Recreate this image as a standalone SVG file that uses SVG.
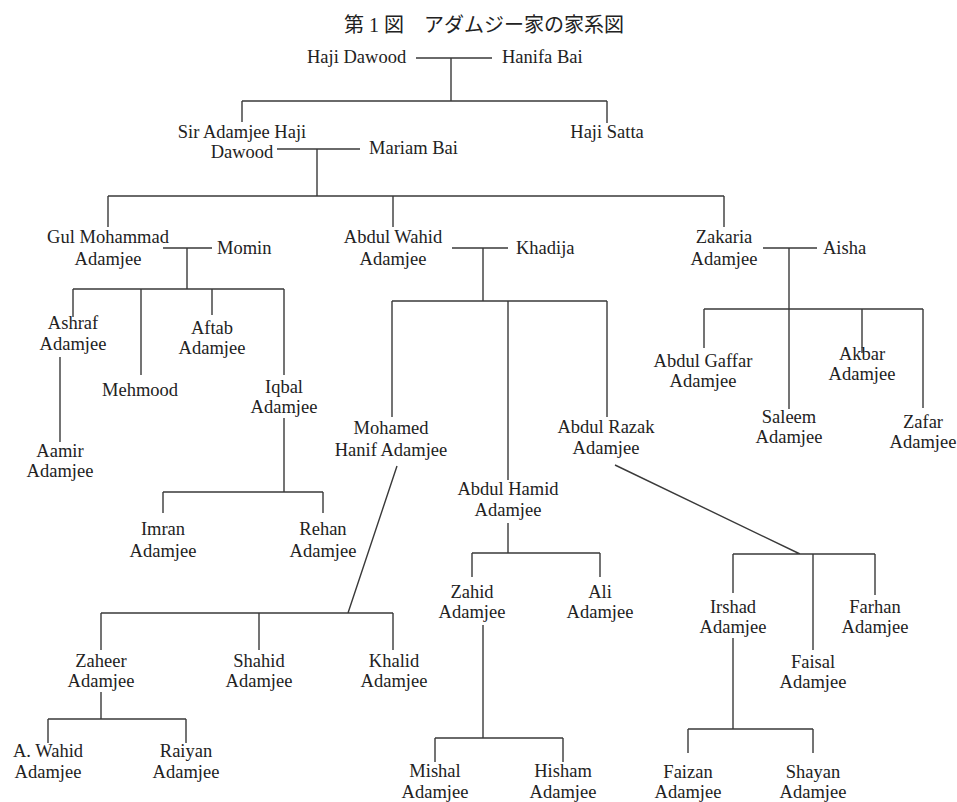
<svg xmlns="http://www.w3.org/2000/svg" width="957" height="802" viewBox="0 0 957 802">
<style>
text{font-family:"Liberation Serif","Times New Roman",serif;font-size:18.5px;fill:#222}
.c{text-anchor:middle}
.t{font-family:"Liberation Serif","Noto Sans CJK JP",serif;font-size:20px;text-anchor:middle}
#connectors path{fill:none;stroke:#3a3a3a;stroke-width:1.4}
</style>
<rect width="957" height="802" fill="#fff"/>
<text class="t" x="484" y="32">第 1 図　アダムジー家の家系図</text>
<g id="connectors">
<path d="M416 58H492M451 58V101M242 101H607M242 101V122M607 101V123"/>
<path d="M277 149H360M317 149V196M108 196H724M108 196V227M393 196V227M724 196V227"/>
<path d="M163 248H212M187 248V289M73 289H284M73 289V317M141 289V375M212 289V315M284 289V375"/>
<path d="M60 357V442M284 418V492M163 492H323M163 492V513M323 492V513"/>
<path d="M452 248H508M483 248V301M392 301H607M392 301V417M508 301V480M607 301V417"/>
<path d="M397 466L348 613M101 613H393M101 613V650M259 613V650M393 613V650"/>
<path d="M101 692V719M48 719H186M48 719V743M186 719V743"/>
<path d="M508 523V553M472 553H600M472 553V577M600 553V577"/>
<path d="M483 625V738M435 738H563M435 738V762M563 738V762"/>
<path d="M615 465L800 554M733 554H875M733 554V593M813 554V650M875 554V595"/>
<path d="M733 638V729M688 729H813M688 729V753M813 729V753"/>
<path d="M763 248H817M789 248V409M704 309H923M704 309V348M862 309V353M923 309V408"/>
</g>
<g id="haji-dawood"><text x="307" y="63">Haji Dawood</text></g>
<g id="hanifa-bai"><text x="502" y="63">Hanifa Bai</text></g>
<g id="sir-adamjee"><text class="c" x="242" y="138">Sir Adamjee Haji</text><text class="c" x="242" y="158">Dawood</text></g>
<g id="mariam-bai"><text x="369" y="154">Mariam Bai</text></g>
<g id="haji-satta"><text class="c" x="607" y="138">Haji Satta</text></g>
<g id="gul-mohammad"><text class="c" x="108" y="243">Gul Mohammad</text><text class="c" x="108" y="265">Adamjee</text></g>
<g id="momin"><text x="217" y="254">Momin</text></g>
<g id="abdul-wahid"><text class="c" x="393" y="243">Abdul Wahid</text><text class="c" x="393" y="265">Adamjee</text></g>
<g id="khadija"><text x="516" y="254">Khadija</text></g>
<g id="zakaria"><text class="c" x="724" y="243">Zakaria</text><text class="c" x="724" y="265">Adamjee</text></g>
<g id="aisha"><text x="823" y="254">Aisha</text></g>
<g id="ashraf"><text class="c" x="73" y="329">Ashraf</text><text class="c" x="73" y="350">Adamjee</text></g>
<g id="mehmood"><text class="c" x="140" y="396">Mehmood</text></g>
<g id="aftab"><text class="c" x="212" y="334">Aftab</text><text class="c" x="212" y="354">Adamjee</text></g>
<g id="iqbal"><text class="c" x="284" y="393">Iqbal</text><text class="c" x="284" y="413">Adamjee</text></g>
<g id="aamir"><text class="c" x="60" y="457">Aamir</text><text class="c" x="60" y="477">Adamjee</text></g>
<g id="imran"><text class="c" x="163" y="535">Imran</text><text class="c" x="163" y="557">Adamjee</text></g>
<g id="rehan"><text class="c" x="323" y="535">Rehan</text><text class="c" x="323" y="557">Adamjee</text></g>
<g id="mohamed-hanif"><text class="c" x="391" y="434">Mohamed</text><text class="c" x="391" y="456">Hanif Adamjee</text></g>
<g id="abdul-hamid"><text class="c" x="508" y="495">Abdul Hamid</text><text class="c" x="508" y="516">Adamjee</text></g>
<g id="abdul-razak"><text class="c" x="606" y="433">Abdul Razak</text><text class="c" x="606" y="454">Adamjee</text></g>
<g id="abdul-gaffar"><text class="c" x="703" y="367">Abdul Gaffar</text><text class="c" x="703" y="387">Adamjee</text></g>
<g id="saleem"><text class="c" x="789" y="423">Saleem</text><text class="c" x="789" y="443">Adamjee</text></g>
<g id="akbar"><text class="c" x="862" y="360">Akbar</text><text class="c" x="862" y="380">Adamjee</text></g>
<g id="zafar"><text class="c" x="923" y="428">Zafar</text><text class="c" x="923" y="448">Adamjee</text></g>
<g id="zaheer"><text class="c" x="101" y="667">Zaheer</text><text class="c" x="101" y="687">Adamjee</text></g>
<g id="shahid"><text class="c" x="259" y="667">Shahid</text><text class="c" x="259" y="687">Adamjee</text></g>
<g id="khalid"><text class="c" x="394" y="667">Khalid</text><text class="c" x="394" y="687">Adamjee</text></g>
<g id="zahid"><text class="c" x="472" y="598">Zahid</text><text class="c" x="472" y="618">Adamjee</text></g>
<g id="ali"><text class="c" x="600" y="598">Ali</text><text class="c" x="600" y="618">Adamjee</text></g>
<g id="irshad"><text class="c" x="733" y="613">Irshad</text><text class="c" x="733" y="633">Adamjee</text></g>
<g id="faisal"><text class="c" x="813" y="668">Faisal</text><text class="c" x="813" y="688">Adamjee</text></g>
<g id="farhan"><text class="c" x="875" y="613">Farhan</text><text class="c" x="875" y="633">Adamjee</text></g>
<g id="a-wahid"><text class="c" x="48" y="757">A. Wahid</text><text class="c" x="48" y="778">Adamjee</text></g>
<g id="raiyan"><text class="c" x="186" y="757">Raiyan</text><text class="c" x="186" y="778">Adamjee</text></g>
<g id="mishal"><text class="c" x="435" y="777">Mishal</text><text class="c" x="435" y="798">Adamjee</text></g>
<g id="hisham"><text class="c" x="563" y="777">Hisham</text><text class="c" x="563" y="798">Adamjee</text></g>
<g id="faizan"><text class="c" x="688" y="778">Faizan</text><text class="c" x="688" y="798">Adamjee</text></g>
<g id="shayan"><text class="c" x="813" y="778">Shayan</text><text class="c" x="813" y="798">Adamjee</text></g>
</svg>
